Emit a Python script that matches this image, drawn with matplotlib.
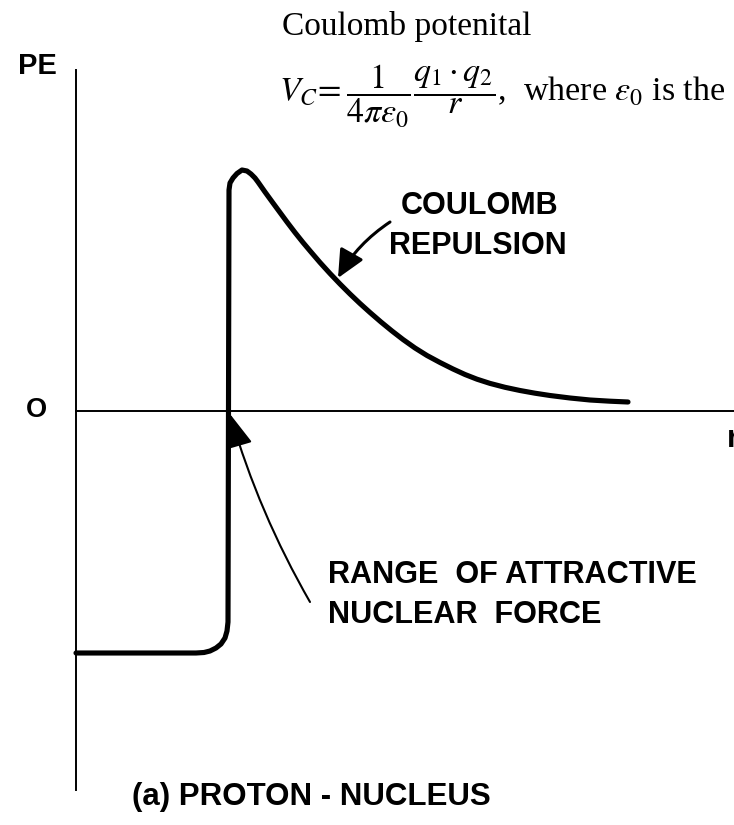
import matplotlib
matplotlib.use("Agg")
import matplotlib.pyplot as plt

###   Data: potential energy vs separation r (nuclear range R ~ 1.5)

# nuclear well, flat bottom and rounded corner up to the wall
well_r = [0.00, 1.20, 1.28, 1.34, 1.40, 1.45, 1.49, 1.51, 1.52]
well_pe = [-2.42, -2.42, -2.415, -2.40, -2.37, -2.33, -2.27, -2.20, -2.11]

# wall, rounded top and the Coulomb tail
coul_r = [1.53, 1.54, 1.57, 1.61, 1.66, 1.71, 1.75, 1.79, 1.82,
          1.89, 1.97, 2.04, 2.11, 2.19, 2.27, 2.35, 2.44, 2.54, 2.64,
          2.74, 2.84, 2.94, 3.05, 3.16, 3.27, 3.39, 3.51, 3.64, 3.77,
          3.89, 4.01, 4.14, 4.29, 4.44, 4.59, 4.74, 4.94, 5.14, 5.34, 5.52]
coul_pe = [2.21, 2.28, 2.33, 2.375, 2.41, 2.40, 2.37, 2.33, 2.29,
           2.19, 2.08, 1.985, 1.89, 1.785, 1.685, 1.59, 1.485, 1.375, 1.27,
           1.17, 1.075, 0.985, 0.89, 0.80, 0.715, 0.63, 0.555, 0.485, 0.42,
           0.365, 0.318, 0.276, 0.237, 0.205, 0.178, 0.155, 0.13, 0.11, 0.098, 0.09]

label_font = "Liberation Sans"

###   Figure

fig = plt.figure(figsize=(7.34, 8.25), dpi=100)
ax = fig.add_axes([0, 0, 1, 1])
ax.set_xlim(-0.76, 6.58)
ax.set_ylim(-4.14, 4.11)

# axes drawn as spines through the origin
for side in ["top", "right"]:
    ax.spines[side].set_visible(False)
ax.spines["left"].set_position(("data", 0))
ax.spines["left"].set_bounds(-3.79, 3.41)
ax.spines["bottom"].set_position(("data", 0))
ax.spines["bottom"].set_bounds(0, 6.7)
for side in ["left", "bottom"]:
    ax.spines[side].set_linewidth(1.4)
ax.set_xticks([])
ax.set_yticks([])
ax.patch.set_visible(False)

curve_r = well_r + coul_r
curve_pe = well_pe + coul_pe
ax.plot(curve_r, curve_pe, color="black", lw=3.7,
        solid_joinstyle="round", solid_capstyle="round", zorder=3)

# axis labels
ax.text(-0.39, 3.45, "PE", fontsize=21, fontweight="bold", family=label_font,
        ha="center", va="center")
ax.text(-0.40, 0.01, "O", fontsize=19.5, fontweight="bold", family=label_font,
        ha="center", va="center")
ax.text(6.51, -0.36, "r", fontsize=22, fontweight="bold", family=label_font,
        ha="left", va="baseline")

# annotations
ax.annotate("", xy=(2.62, 1.33), xytext=(3.14, 1.89),
            arrowprops=dict(arrowstyle="-|>,head_length=0.85,head_width=0.4",
                            mutation_scale=20, lw=2.2, color="black",
                            shrinkA=0, shrinkB=0,
                            connectionstyle="arc3,rad=0.12"))
ax.text(4.04, 1.97, "COULOMB", fontsize=22, fontweight="bold", family=label_font,
        ha="center", va="baseline")
ax.text(4.02, 1.57, "REPULSION", fontsize=22, fontweight="bold", family=label_font,
        ha="center", va="baseline")

ax.annotate("", xy=(1.54, -0.03), xytext=(2.34, -1.91),
            arrowprops=dict(arrowstyle="-|>,head_length=1.05,head_width=0.42",
                            mutation_scale=20, lw=1.5, color="black",
                            shrinkA=0, shrinkB=0,
                            connectionstyle="arc3,rad=-0.06"))
ax.text(2.52, -1.72, "RANGE  OF ATTRACTIVE", fontsize=22.1, fontweight="bold",
        family=label_font, ha="left", va="baseline")
ax.text(2.52, -2.12, "NUCLEAR  FORCE", fontsize=22.1, fontweight="bold",
        family=label_font, ha="left", va="baseline")

ax.text(2.35, -3.94, "(a) PROTON - NUCLEUS", fontsize=22.5, fontweight="bold",
        family=label_font, ha="center", va="baseline")

# heading and formula
plt.rcParams["mathtext.fontset"] = "stix"
ax.text(3.31, 3.76, "Coulomb potenital", fontsize=24, family="Liberation Serif",
        ha="center", va="baseline")
ax.text(2.03, 3.09,
        r"$V_C\! = \dfrac{1}{4\pi\varepsilon_0}\dfrac{q_1 \cdot q_2}{r}$,  where $\varepsilon_0$ is the",
        fontsize=24.5, family="Liberation Serif", ha="left", va="baseline")

fig.savefig("out.png", dpi=100)
